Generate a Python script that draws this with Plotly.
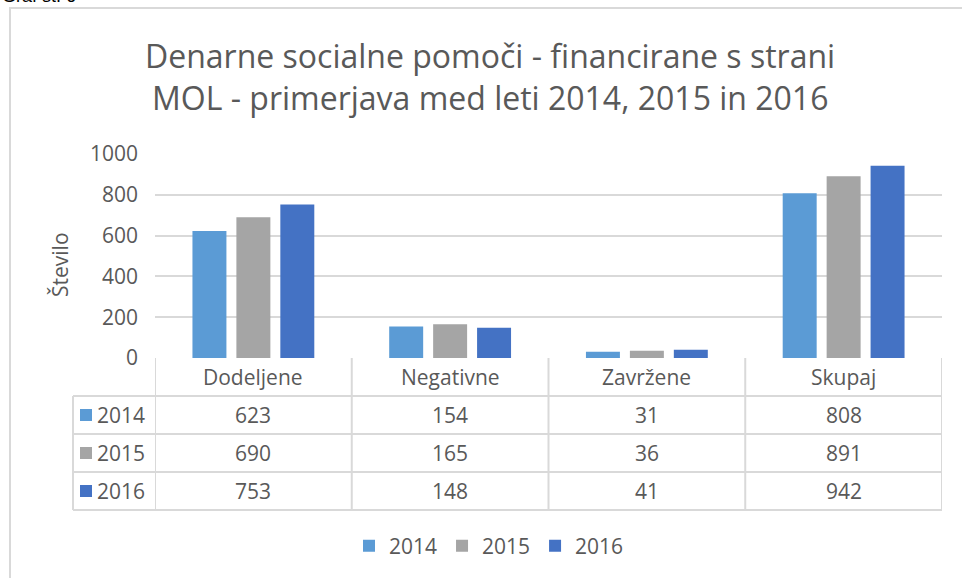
import plotly.graph_objects as go

categories = ["Dodeljene", "Negativne", "Zavržene", "Skupaj"]
years = ["2014", "2015", "2016"]
values_2014 = [623, 154, 31, 808]
values_2015 = [690, 165, 36, 891]
values_2016 = [753, 148, 41, 942]
series = [values_2014, values_2015, values_2016]
colors = ["#5B9BD5", "#A5A5A5", "#4472C4"]
y_ticks = [0, 200, 400, 600, 800, 1000]
title_lines = ["Denarne socialne pomoči - financirane s strani",
               "MOL - primerjava med leti 2014, 2015 in 2016"]
y_title = "Število"
caption = "Graf št. 6"

W, H = 962, 578
FONT = "Open Sans"
TXT = "#595959"
GRID = "#D9D9D9"
FS = 21

def px(x):
    return x / W

def py(y):
    return 1 - y / H

fig = go.Figure()
for name, vals, col in zip(years, series, colors):
    fig.add_trace(go.Bar(x=categories, y=vals, name=name, marker=dict(color=col, line=dict(width=0))))

fig.update_layout(
    width=W, height=H, autosize=False,
    margin=dict(l=0, r=0, t=0, b=0, autoexpand=False),
    paper_bgcolor="white", plot_bgcolor="white",
    barmode="group", bargap=0.33, bargroupgap=0.227,
    font=dict(family=FONT, color=TXT, size=FS),
    xaxis=dict(domain=[px(155), px(942)], range=[-0.5, 3.5], showticklabels=False,
               showgrid=False, zeroline=False, showline=False, fixedrange=True,
               automargin=False),
    yaxis=dict(domain=[py(358), py(154)], range=[0, 1000], tickvals=y_ticks,
               showgrid=True, gridcolor=GRID, gridwidth=2, zeroline=False,
               showline=False, ticks="", ticklabelstandoff=16, automargin=False,
               tickfont=dict(size=FS, color=TXT, family=FONT)),
    legend=dict(orientation="h", x=px(489), xanchor="center", y=py(546), yanchor="middle",
                font=dict(size=FS, color=TXT, family=FONT), itemwidth=30,
                bgcolor="rgba(0,0,0,0)"),
    showlegend=True,
)

ann = []
# Title
ann.append(dict(text=title_lines[0], x=px(490), y=py(55), xref="paper", yref="paper",
                showarrow=False, xanchor="center", yanchor="middle",
                font=dict(size=32, color=TXT, family=FONT)))
ann.append(dict(text=title_lines[1], x=px(490), y=py(98), xref="paper", yref="paper",
                showarrow=False, xanchor="center", yanchor="middle",
                font=dict(size=32, color=TXT, family=FONT)))
# Y title
ann.append(dict(text=y_title, x=px(60), y=py(265), xref="paper", yref="paper",
                showarrow=False, textangle=-90, xanchor="center", yanchor="middle",
                font=dict(size=FS, color=TXT, family=FONT)))
# Caption at top-left (cut off by the page edge as in the source)
ann.append(dict(text=caption, x=0, y=py(-4), xref="paper", yref="paper",
                showarrow=False, xanchor="left", yanchor="middle",
                font=dict(size=18, color="#000000", family="Liberation Sans")))

row_y = [415, 453, 491]
# Header row: category names
for c in categories:
    ann.append(dict(text=c, x=c, y=py(377), xref="x", yref="paper", showarrow=False,
                    xanchor="center", yanchor="middle", font=dict(size=FS, color=TXT, family=FONT)))
# Data rows
for yr, vals, ry in zip(years, series, row_y):
    ann.append(dict(text=yr, x=px(147), y=py(ry), xref="paper", yref="paper", showarrow=False,
                    xanchor="right", yanchor="middle", font=dict(size=FS, color=TXT, family=FONT)))
    for c, v in zip(categories, vals):
        ann.append(dict(text=str(v), x=c, y=py(ry), xref="x", yref="paper", showarrow=False,
                        xanchor="center", yanchor="middle", font=dict(size=FS, color=TXT, family=FONT)))

shapes = []
# outer frame
shapes.append(dict(type="rect", xref="paper", yref="paper", x0=px(10), x1=px(990),
                   y0=py(600), y1=py(8), line=dict(color=GRID, width=2), fillcolor="rgba(0,0,0,0)"))
# table horizontal lines
for yy in [396, 434, 472, 510]:
    shapes.append(dict(type="line", xref="paper", yref="paper", x0=px(73), x1=px(942),
                       y0=py(yy), y1=py(yy), line=dict(color=GRID, width=2)))
# vertical lines at category boundaries
for xb in [-0.5, 0.5, 1.5, 2.5, 3.5]:
    shapes.append(dict(type="line", xref="x", yref="paper", x0=xb, x1=xb,
                       y0=py(510), y1=py(358), line=dict(color=GRID, width=2)))
shapes.append(dict(type="line", xref="paper", yref="paper", x0=px(73), x1=px(73),
                   y0=py(510), y1=py(396), line=dict(color=GRID, width=2)))
# legend keys in table
for col, ry in zip(colors, row_y):
    shapes.append(dict(type="rect", xref="paper", yref="paper", x0=px(80), x1=px(92),
                       y0=py(ry + 6), y1=py(ry - 6), line=dict(width=0), fillcolor=col))

fig.update_layout(annotations=ann, shapes=shapes)
fig.write_html("out.html", config={"displayModeBar": False},
               post_script="document.body.style.margin='0';document.body.style.overflow='hidden';")
